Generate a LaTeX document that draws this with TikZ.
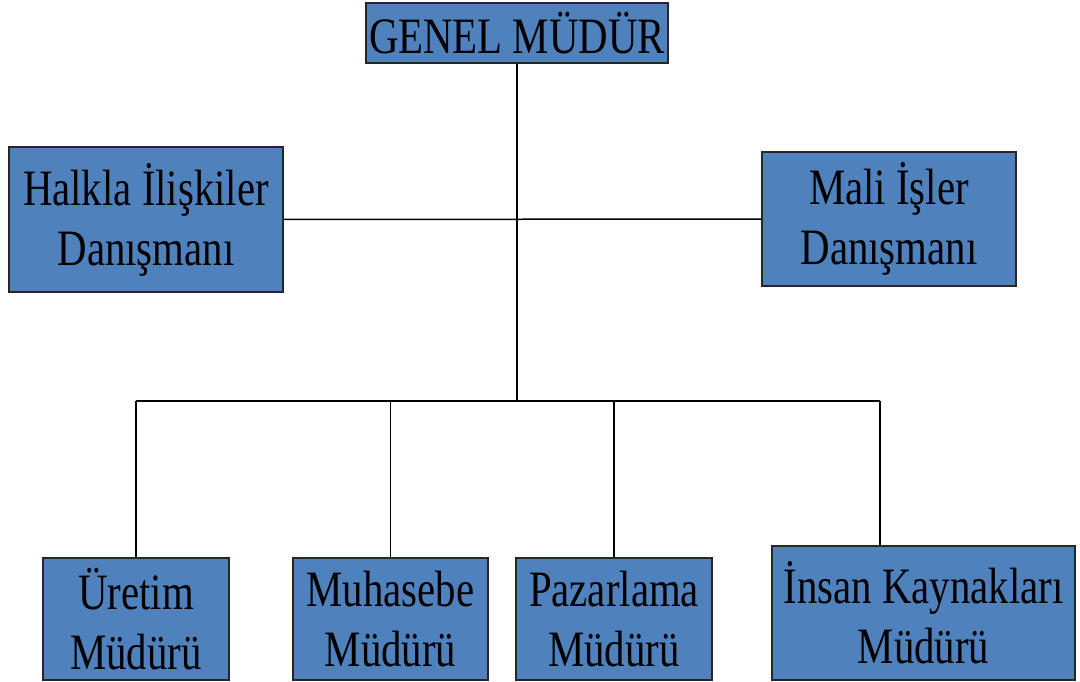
\documentclass[tikz,border=0pt]{standalone}
\usepackage{fontspec}
\setmainfont{Liberation Serif}[FakeStretch=0.8]
\definecolor{boxblue}{RGB}{79,129,189}
\begin{document}
\begin{tikzpicture}[x=1pt,y=-1pt,
  box/.style={draw=black!85, line width=1.5pt, fill=boxblue, inner sep=0pt,
    align=center, font=\fontsize{51}{60}\selectfont},
  conn/.style={draw=black, line width=1.5pt}]
\useasboundingbox (0,0) rectangle (1080,682);
\node[box, minimum width=302pt, minimum height=60pt] (gm) at (517,33) {GENEL MÜDÜR};
\node[box, minimum width=274pt, minimum height=145pt] (hr) at (146,219.5) {Halkla İlişkiler\\Danışmanı};
\node[box, minimum width=254pt, minimum height=134pt] (mali) at (889,219) {Mali İşler\\Danışmanı};
\node[box, minimum width=186pt, minimum height=122pt] (uretim) at (136,619) {Üretim\\Müdürü};
\node[box, minimum width=195pt, minimum height=122pt] (muh) at (390.5,619) {Muhasebe\\Müdürü};
\node[box, minimum width=196pt, minimum height=122pt] (paz) at (614,619) {Pazarlama\\Müdürü};
\node[box, minimum width=303pt, minimum height=134pt] (ik) at (923.5,613) {İnsan Kaynakları\\Müdürü};
\coordinate (hub) at (517,401);
\coordinate (busL) at (136,401);
\coordinate (busR) at (880,401);
\draw[conn] (gm.south) -- (hub);
\draw[conn] (hr.east) -- (mali.west);
\draw[conn] (busL) -- (busR);
\draw[conn] (uretim.north) -- (uretim.north |- busL);
\draw[conn] (muh.north) -- (muh.north |- busL);
\draw[conn] (paz.north) -- (paz.north |- busL);
\draw[conn] (busR) -- (busR |- ik.north);
\end{tikzpicture}
\end{document}
